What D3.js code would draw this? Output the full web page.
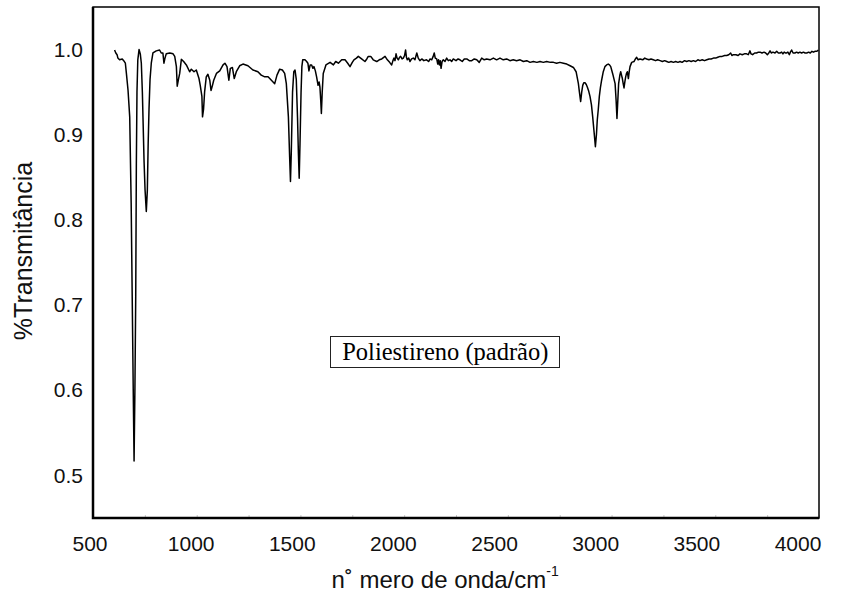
<!DOCTYPE html>
<html>
<head>
<meta charset="utf-8">
<script src="https://cdn.jsdelivr.net/npm/d3@7"></script>
<style>
  html, body { margin: 0; padding: 0; background: #fff; }
  svg { display: block; }
</style>
</head>
<body>
<div id="chart"></div>
<script>
// spectrum (cm-1, fraction transmitted)
const wavenumber = [
  604, 610, 616, 620, 628, 641, 648, 656, 661, 669, 677, 684, 689, 694, 698, 702, 706, 709, 712, 716,
  722, 728, 733, 738, 742, 746, 751, 757, 762, 766, 770, 775, 781, 789, 805, 821, 829, 837, 842, 847,
  853, 870, 886, 894, 902, 906, 912, 918, 926, 937, 950, 966, 974, 987, 998, 1011, 1017, 1025, 1028, 1033,
  1038, 1046, 1054, 1063, 1069, 1076, 1082, 1095, 1111, 1127, 1136, 1146, 1155, 1162, 1172, 1181, 1191, 1207, 1223, 1247,
  1271, 1295, 1311, 1328, 1344, 1360, 1376, 1387, 1400, 1413, 1424, 1432, 1442, 1448, 1452, 1456, 1462, 1468, 1474, 1480,
  1486, 1490, 1494, 1498, 1503, 1507, 1511, 1522, 1530, 1536, 1541, 1547, 1554, 1560, 1565, 1572, 1578, 1585, 1590, 1594,
  1598, 1601, 1605, 1610, 1623, 1643, 1659, 1670, 1683, 1699, 1715, 1728, 1739, 1750, 1758, 1770, 1779, 1795, 1811, 1820,
  1827, 1839, 1851, 1868, 1880, 1892, 1908, 1919, 1930, 1940, 1946, 1951, 1956, 1961, 1966, 1972, 1978, 1983, 1990, 1996,
  2002, 2007, 2011, 2015, 2022, 2028, 2036, 2044, 2052, 2061, 2068, 2076, 2085, 2095, 2108, 2118, 2125, 2133, 2140, 2145,
  2150, 2157, 2162, 2166, 2170, 2174, 2178, 2183, 2189, 2197, 2205, 2213, 2221, 2229, 2237, 2250, 2260, 2269, 2280, 2290,
  2302, 2314, 2326, 2338, 2350, 2362, 2374, 2386, 2398, 2414, 2430, 2446, 2462, 2478, 2494, 2510, 2526, 2542, 2559, 2575,
  2591, 2607, 2623, 2640, 2655, 2671, 2687, 2705, 2720, 2735, 2751, 2768, 2784, 2800, 2816, 2829, 2840, 2845, 2851, 2856,
  2861, 2866, 2872, 2878, 2883, 2890, 2896, 2903, 2909, 2915, 2922, 2927, 2931, 2936, 2941, 2946, 2952, 2960, 2968, 2976,
  2984, 2990, 2996, 3005, 3012, 3017, 3022, 3026, 3030, 3034, 3040, 3044, 3048, 3052, 3056, 3060, 3064, 3068, 3072, 3076,
  3081, 3085, 3089, 3097, 3108, 3115, 3121, 3128, 3137, 3150, 3160, 3169, 3180, 3190, 3201, 3212, 3222, 3234, 3245, 3256,
  3266, 3276, 3287, 3298, 3309, 3320, 3330, 3340, 3352, 3362, 3373, 3384, 3394, 3405, 3416, 3426, 3437, 3448, 3459, 3470,
  3480, 3491, 3502, 3512, 3523, 3533, 3545, 3555, 3565, 3574, 3580, 3587, 3600, 3610, 3619, 3630, 3640, 3651, 3659, 3667,
  3672, 3680, 3690, 3699, 3708, 3716, 3725, 3735, 3743, 3751, 3758, 3764, 3770, 3778, 3788, 3796, 3804, 3812, 3820, 3826,
  3832, 3838, 3844, 3850, 3857, 3862, 3868, 3875, 3884, 3892, 3900, 3908, 3916, 3925, 3933, 3941, 3950, 3958, 3966, 3973,
  3982, 3990, 3997
];
const transmittance = [
  0.9995, 0.996, 0.994, 0.990, 0.988, 0.989, 0.987, 0.984, 0.972, 0.952, 0.921, 0.82, 0.71, 0.60, 0.517, 0.60, 0.71, 0.866, 0.95, 0.988,
  1.000, 0.995, 0.984, 0.95, 0.91, 0.87, 0.835, 0.810, 0.835, 0.89, 0.93, 0.965, 0.984, 0.996, 0.9985, 0.9995, 0.996, 0.996, 0.984, 0.990,
  0.995, 0.996, 0.995, 0.992, 0.980, 0.957, 0.965, 0.972, 0.9885, 0.986, 0.982, 0.974, 0.977, 0.974, 0.976, 0.966, 0.958, 0.945, 0.921, 0.93,
  0.950, 0.968, 0.971, 0.964, 0.952, 0.958, 0.964, 0.972, 0.975, 0.982, 0.984, 0.980, 0.964, 0.978, 0.979, 0.966, 0.974, 0.981, 0.983, 0.981,
  0.976, 0.974, 0.970, 0.968, 0.968, 0.964, 0.960, 0.970, 0.977, 0.976, 0.972, 0.960, 0.921, 0.874, 0.845, 0.88, 0.95, 0.974, 0.976, 0.965,
  0.92, 0.88, 0.849, 0.89, 0.95, 0.98, 0.988, 0.988, 0.986, 0.984, 0.975, 0.982, 0.982, 0.978, 0.980, 0.975, 0.968, 0.958, 0.962, 0.956,
  0.94, 0.925, 0.95, 0.972, 0.982, 0.985, 0.982, 0.986, 0.984, 0.988, 0.988, 0.984, 0.980, 0.985, 0.988, 0.990, 0.992, 0.989, 0.986, 0.989,
  0.992, 0.992, 0.988, 0.986, 0.988, 0.989, 0.992, 0.988, 0.985, 0.982, 0.987, 0.990, 0.987, 0.995, 0.990, 0.988, 0.991, 0.992, 0.989, 0.990,
  0.993, 0.9995, 0.991, 0.988, 0.990, 0.986, 0.989, 0.990, 0.988, 0.996, 0.990, 0.987, 0.989, 0.987, 0.988, 0.986, 0.989, 0.988, 0.992, 0.996,
  0.990, 0.989, 0.983, 0.988, 0.982, 0.987, 0.978, 0.986, 0.988, 0.986, 0.990, 0.987, 0.988, 0.986, 0.989, 0.987, 0.989, 0.988, 0.986, 0.989,
  0.989, 0.987, 0.987, 0.989, 0.988, 0.985, 0.990, 0.988, 0.989, 0.988, 0.990, 0.988, 0.990, 0.988, 0.989, 0.987, 0.988, 0.987, 0.988, 0.986,
  0.987, 0.985, 0.986, 0.985, 0.986, 0.985, 0.986, 0.985, 0.985, 0.984, 0.985, 0.984, 0.983, 0.981, 0.979, 0.974, 0.960, 0.95, 0.939, 0.95,
  0.958, 0.961, 0.961, 0.959, 0.956, 0.951, 0.945, 0.935, 0.921, 0.905, 0.886, 0.900, 0.917, 0.93, 0.945, 0.955, 0.964, 0.974, 0.980, 0.982,
  0.983, 0.982, 0.980, 0.972, 0.965, 0.960, 0.94, 0.919, 0.94, 0.960, 0.970, 0.974, 0.970, 0.966, 0.960, 0.955, 0.962, 0.968, 0.972, 0.974,
  0.966, 0.974, 0.980, 0.985, 0.986, 0.989, 0.991, 0.988, 0.989, 0.988, 0.990, 0.989, 0.988, 0.989, 0.988, 0.987, 0.988, 0.987, 0.986, 0.987,
  0.986, 0.985, 0.986, 0.985, 0.986, 0.985, 0.986, 0.985, 0.987, 0.986, 0.987, 0.986, 0.987, 0.986, 0.988, 0.987, 0.988, 0.987, 0.988, 0.989,
  0.989, 0.990, 0.990, 0.991, 0.992, 0.992, 0.993, 0.993, 0.994, 0.996, 0.993, 0.994, 0.994, 0.993, 0.995, 0.994, 0.995, 0.995, 0.994, 0.9985,
  0.995, 0.994, 0.996, 0.996, 0.997, 0.997, 0.996, 0.997, 0.996, 0.994, 0.996, 0.9985, 0.996, 0.997, 0.996, 0.998, 0.996, 0.996, 0.997, 0.995,
  0.997, 0.996, 0.996, 0.997, 0.994, 0.997, 0.9995, 0.996, 0.996, 0.997, 0.996, 0.997, 0.996, 0.997, 0.996, 0.996, 0.997, 0.996, 0.998, 0.997,
  0.998, 0.998, 0.9995
];

const xTickLabels = [500, 1000, 1500, 2000, 2500, 3000, 3500, 4000];
const xMinorTicks = d3.range(500, 4001, 250);
const yTickLabels = [0.5, 0.6, 0.7, 0.8, 0.9, 1.0];

const xTitle = "n˚ mero de onda/cm";
const yTitle = "%Transmitância";
const note = "Poliestireno (padrão)";

const width = 841, height = 597;
const plotLeft = 93, plotRight = 819, plotTop = 7, plotBottom = 518;

const svg = d3.select("#chart").append("svg")
  .attr("width", width)
  .attr("height", height);

svg.append("rect").attr("width", width).attr("height", height).attr("fill", "#fff");

const x = d3.scaleLinear().domain([500, 4000]).range([plotLeft, plotRight]);
const y = d3.scaleLinear().domain([0.45, 1.05]).range([plotBottom, plotTop]);
// the tick labels in the original sit a bit left of the frame ticks
const xLabelPos = d3.scaleLinear().domain([500, 4000]).range([89.5, 797.5]);

// faint minor ticks on the bottom edge
svg.append("g")
  .attr("transform", `translate(0,${plotBottom})`)
  .call(d3.axisBottom(x).tickValues(xMinorTicks).tickSize(-3).tickFormat(""))
  .call((g) => g.select(".domain").remove())
  .call((g) => g.selectAll("line").attr("stroke", "#c8c8c8"));

// frame
svg.append("rect")
  .attr("x", plotLeft).attr("y", plotTop)
  .attr("width", plotRight - plotLeft).attr("height", plotBottom - plotTop)
  .attr("fill", "none")
  .attr("stroke", "#000")
  .attr("stroke-width", 1.5);
svg.append("path")
  .attr("d", `M${plotLeft},${plotTop}V${plotBottom}H${plotRight}`)
  .attr("fill", "none")
  .attr("stroke", "#000")
  .attr("stroke-width", 2.5);

// x tick labels
svg.append("g")
  .attr("transform", `translate(0,${plotBottom})`)
  .call(d3.axisBottom(xLabelPos).tickValues(xTickLabels).tickSize(0).tickPadding(18).tickFormat(d3.format("d")))
  .call((g) => g.select(".domain").remove())
  .call((g) => g.selectAll("text")
    .attr("font-family", "Liberation Sans, Arial, sans-serif")
    .attr("font-size", 21)
    .attr("fill", "#111"));

// y tick labels
svg.append("g")
  .attr("transform", `translate(${plotLeft},0)`)
  .call(d3.axisLeft(y).tickValues(yTickLabels).tickSize(0).tickPadding(10).tickFormat(d3.format(".1f")))
  .call((g) => g.select(".domain").remove())
  .call((g) => g.selectAll("text")
    .attr("font-family", "Liberation Sans, Arial, sans-serif")
    .attr("font-size", 21)
    .attr("fill", "#111"));

// spectrum
const points = wavenumber.map((w, i) => [w, transmittance[i]]);
svg.append("path")
  .datum(points)
  .attr("fill", "none")
  .attr("stroke", "#000")
  .attr("stroke-width", 1.5)
  .attr("stroke-linejoin", "round")
  .attr("d", d3.line().x((d) => x(d[0])).y((d) => y(d[1])));

// axis titles
const xt = svg.append("text")
  .attr("x", 331.5)
  .attr("y", 588)
  .attr("font-family", "Liberation Sans, Arial, sans-serif")
  .attr("font-size", 24)
  .attr("fill", "#111")
  .text(xTitle);
xt.append("tspan")
  .attr("dy", -12)
  .attr("font-size", 14)
  .text("-1");

svg.append("text")
  .attr("transform", "translate(32,251) rotate(-90)")
  .attr("text-anchor", "middle")
  .attr("font-family", "Liberation Sans, Arial, sans-serif")
  .attr("font-size", 25)
  .attr("fill", "#111")
  .text(yTitle);

// note box
const noteText = svg.append("text")
  .attr("x", 445.3)
  .attr("y", 360)
  .attr("text-anchor", "middle")
  .attr("font-family", "Liberation Serif, Times New Roman, serif")
  .attr("font-size", 24.5)
  .attr("fill", "#000")
  .text(note);

svg.insert("rect", () => noteText.node())
  .attr("x", 330.5)
  .attr("y", 336.5)
  .attr("width", 229)
  .attr("height", 31)
  .attr("fill", "#fff")
  .attr("stroke", "#222")
  .attr("stroke-width", 1);
</script>
</body>
</html>
